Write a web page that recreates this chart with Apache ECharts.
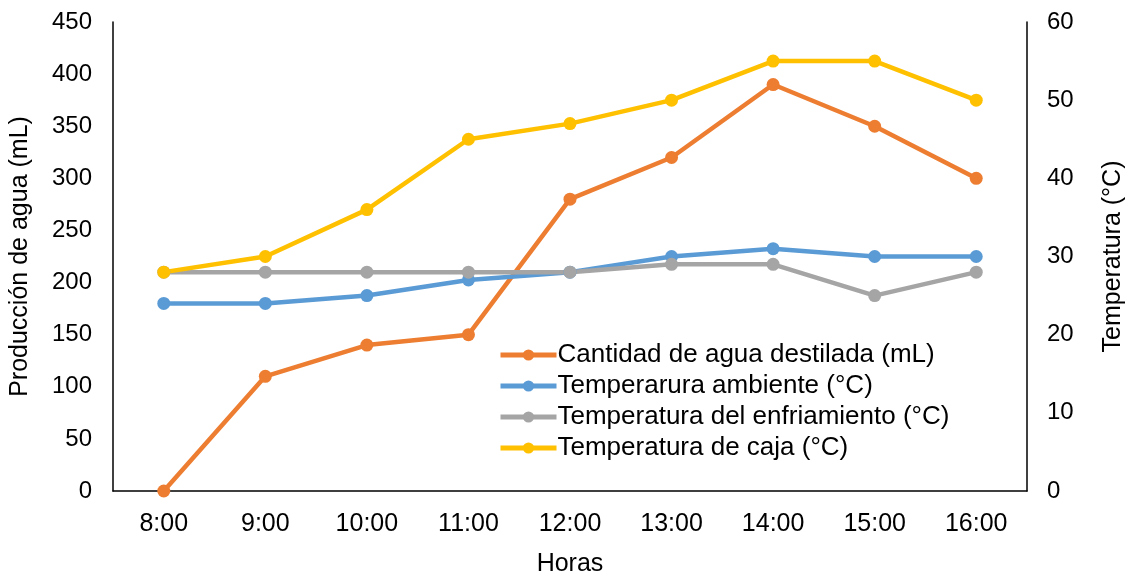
<!DOCTYPE html>
<html>
<head>
<meta charset="utf-8">
<script src="https://cdn.jsdelivr.net/npm/echarts@6/dist/echarts.min.js"></script>
<style>html,body{margin:0;padding:0;background:#fff;}#c{width:1134px;height:582px;}</style>
</head>
<body>
<div id="c"></div>
<script>
const categories = ['8:00','9:00','10:00','11:00','12:00','13:00','14:00','15:00','16:00'];
const aguaDestilada = [0,110,140,150,280,320,390,350,300];
const tempAmbiente = [24,24,25,27,28,30,31,30,30];
const tempEnfriamiento = [28,28,28,28,28,29,29,25,28];
const tempCaja = [28,30,36,45,47,50,55,55,50];

const FONT = 'Liberation Sans, Arial, sans-serif';
const chart = echarts.init(document.getElementById('c'));
function ser(name, data, color, yIdx) {
  return {name, type:'line', data, yAxisIndex:yIdx, symbol:'circle', symbolSize:13,
    lineStyle:{color, width:4.5}, itemStyle:{color}, z: 2};
}
chart.setOption({
  animation:false,
  textStyle:{fontFamily:FONT},
  grid:{left:112, right:104, top:22, bottom:85},
  legend:{orient:'vertical', left:493, top:337, itemWidth:56, itemHeight:14, itemGap:5,
    lineStyle:{width:5},
    textStyle:{fontSize:26, color:'#000', fontFamily:FONT, padding:[0,0,0,-4]},
    data:['Cantidad de agua destilada (mL)','Temperarura ambiente (°C)','Temperatura del enfriamiento (°C)','Temperatura de caja (°C)']},
  xAxis:{type:'category', data:categories, boundaryGap:true,
    axisLine:{lineStyle:{color:'#000', width:1.5}}, axisTick:{show:false},
    axisLabel:{fontSize:25, color:'#000', margin:21, fontFamily:FONT},
    name:'Horas', nameLocation:'middle', nameGap:61, nameTextStyle:{fontSize:25, color:'#000', fontFamily:FONT}},
  yAxis:[
    {type:'value', min:0, max:450, interval:50, splitLine:{show:false},
     axisLine:{show:true, lineStyle:{color:'#000', width:1.5}}, axisTick:{show:false},
     axisLabel:{fontSize:24, color:'#000', margin:21, fontFamily:FONT},
     name:'Producción de agua (mL)', nameLocation:'middle', nameRotate:90, nameGap:80,
     nameTextStyle:{fontSize:25, color:'#000', fontFamily:FONT}},
    {type:'value', min:0, max:60, interval:10, splitLine:{show:false}, position:'right',
     axisLine:{show:true, lineStyle:{color:'#000', width:1.5}}, axisTick:{show:false},
     axisLabel:{fontSize:24, color:'#000', margin:20, fontFamily:FONT},
     name:'Temperatura (°C)', nameLocation:'middle', nameRotate:90, nameGap:74,
     nameTextStyle:{fontSize:25, color:'#000', fontFamily:FONT}}
  ],
  series:[
    ser('Cantidad de agua destilada (mL)', aguaDestilada, '#ED7D31', 0),
    ser('Temperarura ambiente (°C)', tempAmbiente, '#5B9BD5', 1),
    ser('Temperatura del enfriamiento (°C)', tempEnfriamiento, '#A5A5A5', 1),
    ser('Temperatura de caja (°C)', tempCaja, '#FFC000', 1)
  ]
});
</script>
</body>
</html>
